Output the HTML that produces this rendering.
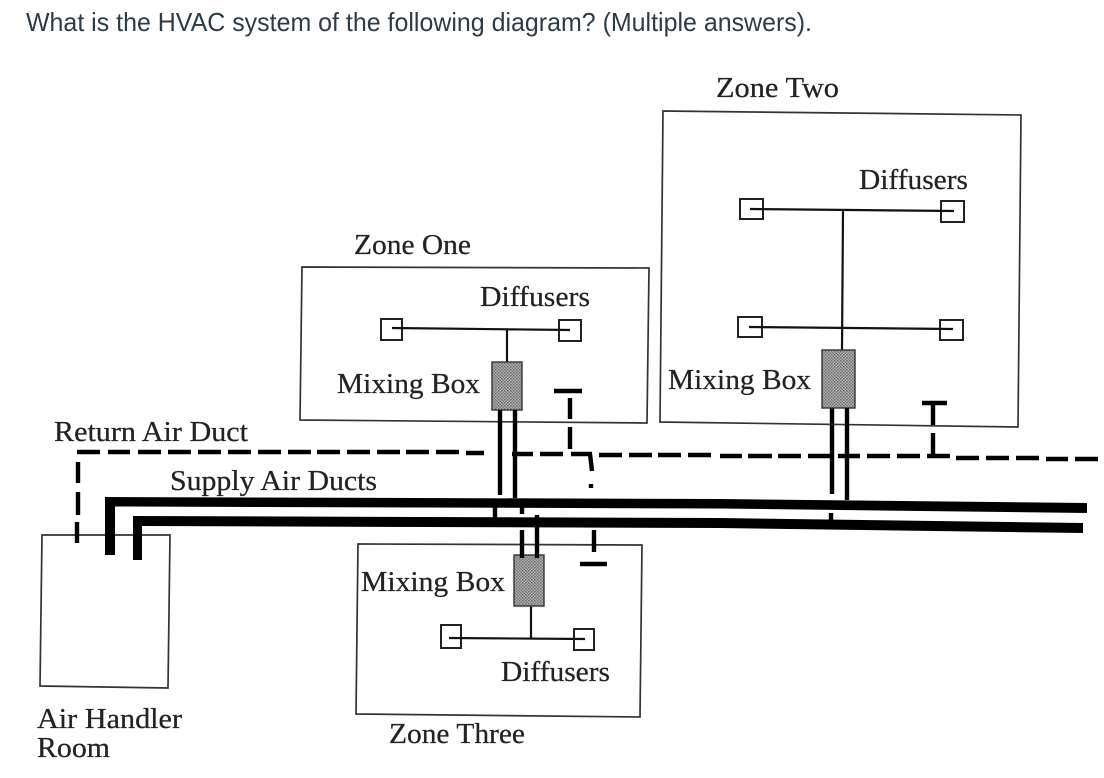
<!DOCTYPE html>
<html><head><meta charset="utf-8"><style>
html,body{margin:0;padding:0;background:#fff;width:1104px;height:778px;overflow:hidden}
svg{display:block}
.s{font-family:"Liberation Serif",serif;font-size:29px;fill:#222;stroke:#222;stroke-width:.25}
</style></head><body>
<svg width="1104" height="778" viewBox="0 0 1104 778" xmlns="http://www.w3.org/2000/svg">
<defs>
<pattern id="d" width="3" height="3" patternUnits="userSpaceOnUse"><rect width="3" height="3" fill="#b4b4b4"/><rect width="1.5" height="1.5" fill="#6a6a6a"/><rect x="1.5" y="1.5" width="1.5" height="1.5" fill="#777"/></pattern>
</defs>
<text x="26" y="31" font-family="'Liberation Sans',sans-serif" font-size="26" fill="#2d3b45" textLength="786" lengthAdjust="spacingAndGlyphs">What is the HVAC system of the following diagram? (Multiple answers).</text>

<!-- zone boxes -->
<g fill="none" stroke="#333" stroke-width="1.7">
<path d="M302 267L649 268L647 423L300 420Z"/>
<path d="M663 111L1021 115L1018 427L660 422Z"/>
<path d="M358 544L642 545L640 717L356 714Z"/>
<path d="M42 535L170 535L168 688L40 686Z"/>
</g>
<!-- diffuser squares -->
<g fill="none" stroke="#222" stroke-width="2">
<path d="M740 199H763V219H740Z"/><path d="M941 201H964V222H941Z"/>
<path d="M738 317H762V337H738Z"/><path d="M940 320H963V340H940Z"/>
<path d="M381 319H402V340H381Z"/><path d="M559 320H581V341H559Z"/>
<path d="M441 625H461V648H441Z"/><path d="M574 629H594V650H574Z"/>
</g>

<!-- diffuser branches -->
<g fill="none" stroke="#111" stroke-width="2.2">
<path d="M750 209L954 211M843 210L842 350M749 327L953 329"/>
<path d="M392 328L570 330M507 330V362"/>
<path d="M449 638L585 639M531 606V638"/>
</g>

<!-- mixing boxes -->
<g fill="url(#d)" stroke="#333" stroke-width="1.4">
<rect x="822" y="350" width="33" height="58"/>
<rect x="492" y="362" width="30" height="48"/>
<rect x="514" y="555" width="30" height="51"/>
</g>

<!-- supply ducts -->
<g fill="#000">
<path d="M105 497L720 499L1087 503V513L720 508.5L115 506.5V555H105Z"/>
<path d="M133 516L720 518L1083 523V533L720 528L142 526V560H133Z"/>
</g>

<!-- branch ducts -->
<g fill="none" stroke="#000" stroke-width="4.4">
<path d="M832 408V494M847 408V500M831 513V523"/>
<path d="M500 410V495M515 410V498M495 505V520M522 507V514M522 530V558M537 515V558"/>
</g>

<!-- return duct dashed -->
<g fill="none" stroke="#000" stroke-width="4.4">
<path d="M77 452H100M108 452H130M138 452H161M168 452H191M198 452H221M228 452H251M258 452H281M288 452H311M317 452H340M347 452H370M377 452H400M406 452H429M436 452H459M466 453H484"/>
<path d="M512 454H533M540 454H563M571 454H592L590 454L592 471M591 484V488"/>
<path d="M599 455H622M629 455H652M658 455H681M688 455H711M720 456H742M748 456H772M778 456H801M808 456H830M838 456H860M867 456H890M897 456H920M927 456H950M956 458H979M986 458H1009M1016 458H1039M1046 459H1068M1075 459H1098"/>
<path d="M78 462V483M78 492V515M77 522V543"/>
<path d="M570 398V419M570 427V449M594 530V552M933 403V425M933 433V457"/>
<path d="M554 391H582M580 564H607M922 403H947"/>
</g>

<!-- labels -->
<text class="s" x="716" y="97" textLength="123" lengthAdjust="spacingAndGlyphs">Zone Two</text>
<text class="s" x="859" y="189" textLength="109" lengthAdjust="spacingAndGlyphs">Diffusers</text>
<text class="s" x="354" y="254" textLength="117" lengthAdjust="spacingAndGlyphs">Zone One</text>
<text class="s" x="480" y="306" textLength="110" lengthAdjust="spacingAndGlyphs">Diffusers</text>
<text class="s" x="337" y="393" textLength="143" lengthAdjust="spacingAndGlyphs">Mixing Box</text>
<text class="s" x="668" y="389" textLength="143" lengthAdjust="spacingAndGlyphs">Mixing Box</text>
<text class="s" x="54" y="441" textLength="194" lengthAdjust="spacingAndGlyphs">Return Air Duct</text>
<text class="s" x="170" y="490" textLength="207" lengthAdjust="spacingAndGlyphs">Supply Air Ducts</text>
<text class="s" x="361" y="591" textLength="144" lengthAdjust="spacingAndGlyphs">Mixing Box</text>
<text class="s" x="501" y="681" textLength="109" lengthAdjust="spacingAndGlyphs">Diffusers</text>
<text class="s" x="389" y="743" textLength="136" lengthAdjust="spacingAndGlyphs">Zone Three</text>
<text class="s" x="37" y="728" textLength="145" lengthAdjust="spacingAndGlyphs">Air Handler</text>
<text class="s" x="37" y="757" textLength="73" lengthAdjust="spacingAndGlyphs">Room</text>
</svg>
</body></html>
